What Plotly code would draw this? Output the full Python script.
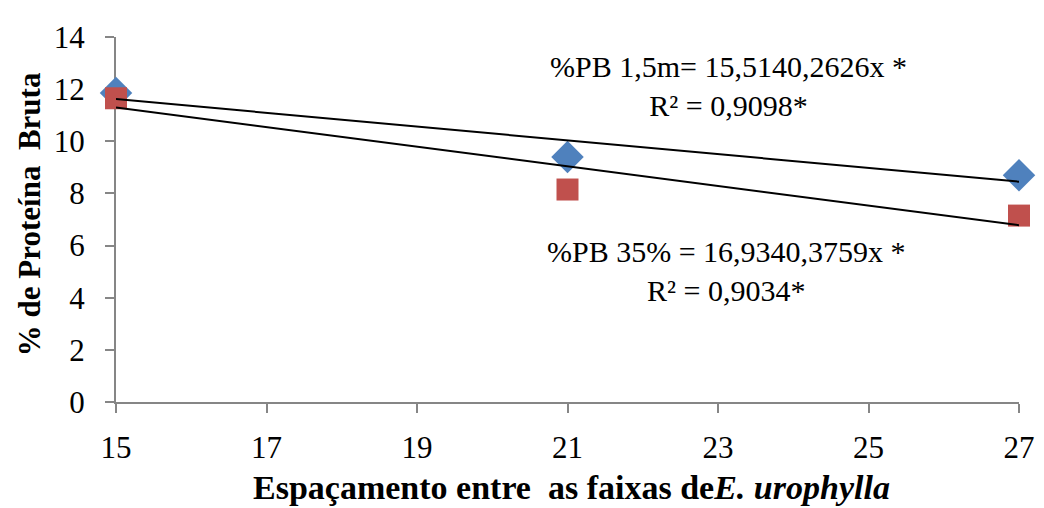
import plotly.graph_objects as go

x_vals = [15, 21, 27]
pb_15m = [11.85, 9.4, 8.7]
pb_35 = [11.65, 8.15, 7.15]

trend_x = [15, 27]
trend_15m = [11.62, 8.45]
trend_35 = [11.3, 6.78]

x_ticks = [15, 17, 19, 21, 23, 25, 27]
y_ticks = [0, 2, 4, 6, 8, 10, 12, 14]

FONT = "Liberation Serif"

# The page keeps an 8px body margin, so the figure starts at (8, 8) in the
# window; layout pixel values below are window pixels minus that offset.
OFF = 8
W, H = 1044, 508
L = 116 - OFF
T = 25 - OFF
R = W - (1019 - OFF)
B = H - (402 - OFF)

fig = go.Figure()
fig.add_trace(go.Scatter(x=x_vals, y=pb_15m, mode="markers", name="%PB 1,5m",
                         cliponaxis=False,
                         marker=dict(symbol="diamond", size=25, color="#4F81BD",
                                     line=dict(width=0))))
fig.add_trace(go.Scatter(x=x_vals, y=pb_35, mode="markers", name="%PB 35%",
                         cliponaxis=False,
                         marker=dict(symbol="square", size=22, color="#C0504D",
                                     line=dict(width=0))))
fig.add_trace(go.Scatter(x=trend_x, y=trend_15m, mode="lines", cliponaxis=False,
                         line=dict(color="black", width=2), showlegend=False))
fig.add_trace(go.Scatter(x=trend_x, y=trend_35, mode="lines", cliponaxis=False,
                         line=dict(color="black", width=2), showlegend=False))

axis_common = dict(showgrid=False, zeroline=False, showline=True,
                   linecolor="#868686", linewidth=2, ticks="outside",
                   ticklen=9, tickwidth=2, tickcolor="#868686",
                   layer="below traces", ticklabeloverflow="allow",
                   tickfont=dict(family=FONT, size=31, color="black"))

fig.update_xaxes(range=[15, 27], tickvals=x_ticks, ticktext=[str(v) for v in x_ticks],
                 ticklabelstandoff=8, **axis_common)
fig.update_yaxes(range=[0, 14], tickvals=y_ticks, ticktext=[str(v) for v in y_ticks],
                 ticklabelstandoff=14, **axis_common)


def ann(text, px, py, size, angle=0):
    # px, py are pixel positions in the browser window
    pw = W - L - R
    ph = H - T - B
    fx, fy = px - OFF, py - OFF
    return dict(text=text, x=(fx - L) / pw, y=(H - fy - B) / ph,
                xref="paper", yref="paper", showarrow=False, textangle=angle,
                xanchor="center", yanchor="middle",
                font=dict(family=FONT, size=size, color="black"))


NB = "\u00a0"
fig.update_layout(
    width=W, height=H,
    margin=dict(l=L, r=R, t=T, b=B),
    plot_bgcolor="white", paper_bgcolor="white",
    showlegend=False,
    font=dict(family=FONT, color="black"),
    annotations=[
        ann("%PB 1,5m= 15,5140,2626x *<br>R² = 0,9098*", 728, 76, 30),
        ann("%PB 35% = 16,9340,3759x *<br>R² = 0,9034*", 726, 267, 30),
        ann("<b>Espaçamento entre" + NB + " as faixas de<i>E. urophylla</i></b>",
            571, 490, 34),
        ann("<b>% de Proteína" + NB + " Bruta</b>", 29, 208, 31, -90),
    ],
)

fig.write_html("out.html")
